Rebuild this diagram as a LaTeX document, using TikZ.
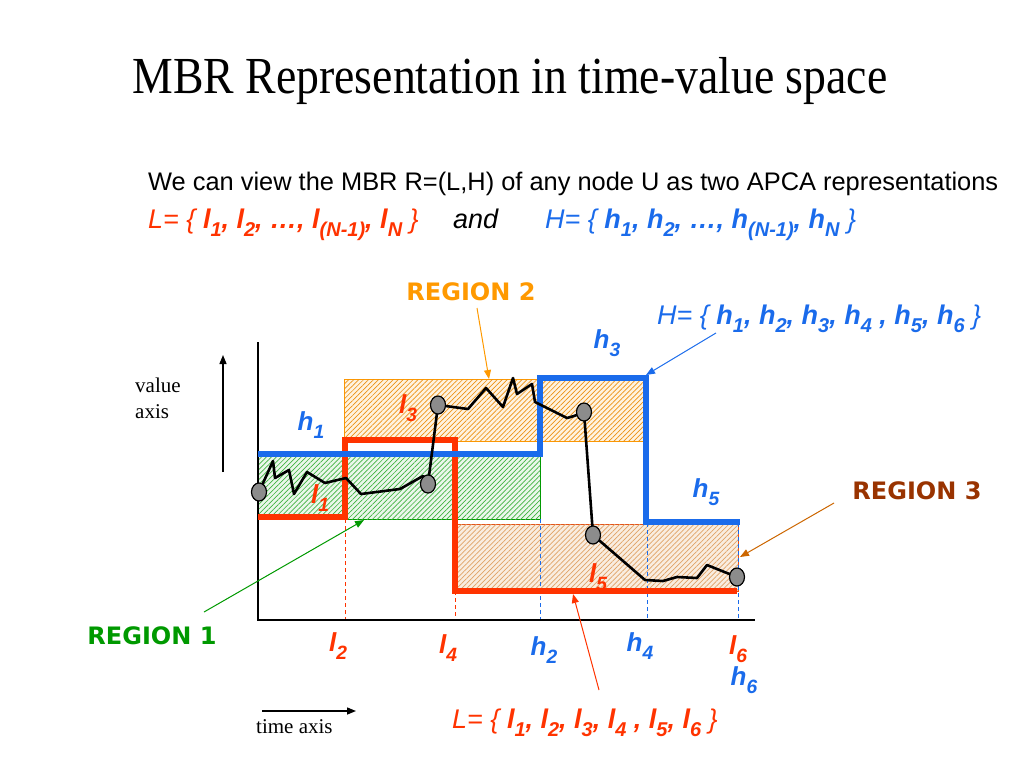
\documentclass[tikz,border=0pt]{standalone}
\usepackage{fontspec}
\setmainfont{Liberation Serif}
\newfontfamily\arialf{Liberation Sans}
\newfontfamily\verdf{DejaVu Sans}
\newfontfamily\titlef[FakeStretch=0.88]{Liberation Serif}
\usepackage{tikz}
\usetikzlibrary{arrows.meta, patterns.meta, shapes.geometric, positioning}
\definecolor{lred}{HTML}{FF3300}
\definecolor{hblue}{HTML}{1A6BEB}
\definecolor{rtwo}{HTML}{FF9900}
\definecolor{rone}{HTML}{009900}
\definecolor{rthree}{HTML}{993300}
\definecolor{rthreearr}{HTML}{CC6600}
\definecolor{dotgray}{HTML}{8C8C8C}
\tikzstyle{hlabel} = [font=\arialf\bfseries\itshape\fontsize{26}{30}\selectfont, text=hblue, inner sep=0pt]
\tikzstyle{llabel} = [font=\arialf\bfseries\itshape\fontsize{26}{30}\selectfont, text=lred, inner sep=0pt]
\tikzstyle{regionlabel} = [font=\verdf\bfseries\fontsize{24}{28}\selectfont, inner sep=0pt]
\tikzstyle{setlabel} = [font=\arialf\itshape\fontsize{27}{32}\selectfont, inner sep=0pt, anchor=base west]
\tikzstyle{axislabel} = [font=\fontsize{21}{26}\selectfont, inner sep=0pt, align=left]
\tikzstyle{arrow} = [line width=1pt, -{Triangle[length=9pt,width=7pt]}]
\tikzstyle{axisarrow} = [line width=1.4pt, -{Triangle[length=9pt,width=7pt]}]
\tikzstyle{hline} = [line width=6pt, hblue, line join=miter]
\tikzstyle{lline} = [line width=6pt, lred, line join=miter]
\tikzstyle{series} = [line width=2.6pt, black, line join=round]
\tikzstyle{point} = [ellipse, draw=black, line width=1.2pt, fill=dotgray, minimum width=15pt, minimum height=18pt, inner sep=0pt]
\tikzstyle{guide} = [line width=0.8pt, dash pattern=on 4pt off 3pt]
\makeatletter
\newcommand{\lowsub}[1]{\raisebox{-0.32em}{\fontsize{\strip@pt\dimexpr0.74\dimexpr\f@size pt\relax\relax}{0}\selectfont#1}}
\makeatother
\newcommand{\lsub}[1]{l\lowsub{#1}}
\newcommand{\hsub}[1]{h\lowsub{#1}}
\begin{document}
\begin{tikzpicture}[x=1pt, y=-1pt]
\useasboundingbox (0,0) rectangle (1024,768);

% title and sets
\node (title) [font=\titlef\fontsize{52}{60}\selectfont, inner sep=0pt, anchor=base] at (510,93) {MBR Representation in time-value space};
\node (intro) [font=\arialf\fontsize{25.4}{30}\selectfont, inner sep=0pt, anchor=base west] at (148,190) {We can view the MBR R=(L,H) of any node U as two APCA representations};
\node (lset) [setlabel, text=lred] at (148,228) {L= \{ \textbf{\lsub{1}, \lsub{2}, \dots, \lsub{(N-1)}, \lsub{N}} \}};
\node (and) [setlabel] at (453,228) {and};
\node (hset) [setlabel, text=hblue] at (545,228) {H= \{ \textbf{\hsub{1}, \hsub{2}, \dots, \hsub{(N-1)}, \hsub{N}} \}};

% regions
\draw [rone, line width=0.8pt, fill=rone!8, postaction={pattern={Lines[angle=45,distance=3.5pt,line width=0.7pt]}, pattern color=rone!75}] (258,454) rectangle (540,519);
\draw [rtwo, line width=0.8pt, fill=rtwo!12, postaction={pattern={Lines[angle=45,distance=3.5pt,line width=0.7pt]}, pattern color=rtwo!70!brown}] (344,379) rectangle (645,441);
\draw [lred!60!brown, line width=0.8pt, fill=rthreearr!12, postaction={pattern={Lines[angle=45,distance=3.5pt,line width=0.7pt]}, pattern color=rthreearr!60}] (455,524) rectangle (738,591);

% guides down to the time axis
\draw [guide, lred] (345,519) -- (345,620);
\draw [guide, lred] (455,591) -- (455,620);
\draw [guide, hblue] (540,519) -- (540,620);
\draw [guide, hblue] (647,523) -- (647,620);
\draw [guide, hblue] (738,523) -- (738,620);

% axes
\draw [line width=1.5pt] (258,342) -- (258,620) -- (755,620);
\coordinate (vstart) at (223,472);
\coordinate (vend) at (223,355);
\draw [axisarrow] (vstart) -- (vend);
\node (vlabel) [axislabel, anchor=north west] at (135,378) {value\\axis};
\coordinate (tstart) at (262,711);
\coordinate (tend) at (356,711);
\draw [axisarrow] (tstart) -- (tend);
\node (tlabel) [axislabel, anchor=base west] at (256,733) {time axis};

\node (l5) [llabel] at (598,577) {\lsub{5}};

% L and H
\draw [lline] (258,517) -- (345,517) -- (345,440) -- (455,440) -- (455,591) -- (737,591);
\draw [hline] (258,454) -- (540,454) -- (540,378) -- (646,378) -- (646,522) -- (740,522);

% time series
\coordinate (c1) at (259,492);
\coordinate (c2) at (428,484);
\coordinate (c3) at (438,405);
\coordinate (c4) at (584,412);
\coordinate (c5) at (593,535);
\coordinate (c6) at (737,577);
\draw [series] (c1) -- (273,461) -- (275,478) -- (289,470) -- (294,494) -- (307,472) -- (325,483) -- (346,478) -- (361,494) -- (400,489) -- (423,476) -- (c2) -- (c3) -- (468,409) -- (486,388) -- (503,407) -- (513,378) -- (517,394) -- (532,384) -- (535,402) -- (567,418) -- (574,416) -- (c4) -- (c5) -- (645,580) -- (663,581) -- (677,577) -- (697,578) -- (707,565) -- (c6);
\foreach \i in {1,...,6}
  \node (p\i) [point] at (c\i) {};

% labels on the plot
\node (h1) [hlabel] at (311,425) {\hsub{1}};
\node (h3) [hlabel] at (607,343) {\hsub{3}};
\node (h5) [hlabel] at (706,492) {\hsub{5}};
\node (l1) [llabel] at (320,498) {\lsub{1}};
\node (l3) [llabel] at (408,408) {\lsub{3}};

% labels under the time axis
\node (l2) [llabel] at (338,646) {\lsub{2}};
\node (l4) [llabel] at (448,648) {\lsub{4}};
\node (h2) [hlabel] at (544,650) {\hsub{2}};
\node (h4) [hlabel] at (640,646) {\hsub{4}};
\node (l6) [llabel] at (738,649) {\lsub{6}};
\node (h6) [hlabel] at (744,680) {\hsub{6}};

% regions and sets with their arrows
\node (region2) [regionlabel, text=rtwo] at (471,292) {REGION 2};
\node (region3) [regionlabel, text=rthree] at (917,491) {REGION 3};
\node (region1) [regionlabel, text=rone] at (152,636) {REGION 1};
\node (hsix) [setlabel, text=hblue] at (657,324) {H= \{ \textbf{\hsub{1}, \hsub{2}, \hsub{3}, \hsub{4} , \hsub{5}, \hsub{6}} \}};
\node (lsix) [setlabel, text=lred] at (452,728) {L= \{ \textbf{\lsub{1}, \lsub{2}, \lsub{3}, \lsub{4} , \lsub{5}, \lsub{6}} \}};

\coordinate (r2from) at (477,308);
\coordinate (r2tip) at (489,379);
\coordinate (r3from) at (834,503);
\coordinate (r3tip) at (740,557);
\coordinate (r1from) at (204,612);
\coordinate (r1tip) at (364,520);
\coordinate (hfrom) at (716,333);
\coordinate (htip) at (646,375);
\coordinate (lfrom) at (599,690);
\coordinate (ltip) at (573,594);
\draw [arrow, rtwo] (r2from) -- (r2tip);
\draw [arrow, rthreearr] (r3from) -- (r3tip);
\draw [arrow, rone] (r1from) -- (r1tip);
\draw [arrow, hblue] (hfrom) -- (htip);
\draw [arrow, lred] (lfrom) -- (ltip);

\end{tikzpicture}
\end{document}
